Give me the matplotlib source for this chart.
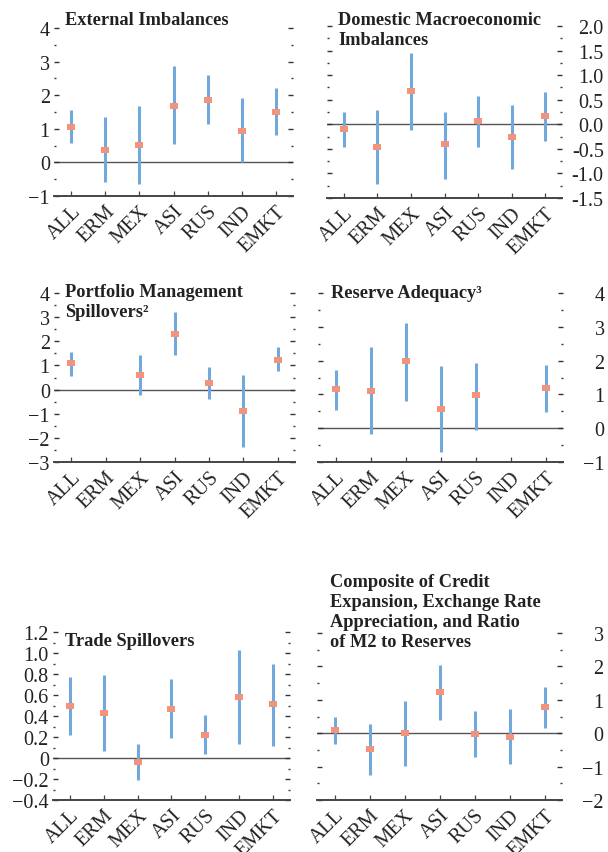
import numpy as np
import matplotlib.pyplot as plt
from matplotlib.ticker import MultipleLocator

plt.rcParams['font.family'] = ['Liberation Serif', 'DejaVu Serif']

countries = ['ALL', 'ERM', 'MEX', 'ASI', 'RUS', 'IND', 'EMKT']
nan = np.nan

# point estimates and band ends
ext_mid = [1.06, 0.38, 0.52, 1.68, 1.87, 0.93, 1.51]
ext_hi = [1.56, 1.34, 1.68, 2.86, 2.59, 1.93, 2.22]
ext_lo = [0.57, -0.57, -0.64, 0.55, 1.14, 0.0, 0.81]

dom_mid = [-0.10, -0.46, 0.68, -0.41, 0.07, -0.26, 0.17]
dom_hi = [0.24, 0.30, 1.46, 0.25, 0.57, 0.39, 0.65]
dom_lo = [-0.46, -1.22, -0.12, -1.11, -0.46, -0.92, -0.34]

port_mid = [1.08, nan, 0.61, 2.31, 0.28, -0.89, 1.24]
port_hi = [1.55, nan, 1.45, 3.21, 0.95, 0.61, 1.76]
port_lo = [0.58, nan, -0.21, 1.44, -0.39, -2.39, 0.75]

res_mid = [1.15, 1.11, 1.98, 0.57, 0.97, nan, 1.19]
res_hi = [1.73, 2.40, 3.12, 1.84, 1.94, nan, 1.88]
res_lo = [0.55, -0.18, 0.79, -0.71, -0.06, nan, 0.47]

trade_mid = [0.50, 0.43, -0.04, 0.47, 0.22, 0.58, 0.51]
trade_hi = [0.77, 0.79, 0.13, 0.75, 0.41, 1.03, 0.90]
trade_lo = [0.22, 0.07, -0.21, 0.19, 0.04, 0.13, 0.11]

comp_mid = [0.10, -0.46, 0.02, 1.22, -0.03, -0.12, 0.78]
comp_hi = [0.49, 0.28, 0.96, 2.05, 0.67, 0.71, 1.39]
comp_lo = [-0.32, -1.24, -0.99, 0.39, -0.72, -0.91, 0.17]

W, H = 608, 853
fig = plt.figure(figsize=(W / 100, H / 100), dpi=100)

BLUE = '#72a9dd'
SALMON = '#f4937b'
rect = [(-1, -0.75), (1, -0.75), (1, 0.75), (-1, 0.75), (-1, -0.75)]


def panel(left, right, top, bottom, mid, lo, hi, ylim, major, minor, side,
          title, tx, tbase, ticks_fmt=None):
    ax = fig.add_axes([left / W, 1 - bottom / H, (right - left) / W, (bottom - top) / H])
    x = np.arange(len(countries))
    mid, lo, hi = np.array(mid), np.array(lo), np.array(hi)
    ok = ~np.isnan(mid)
    ax.vlines(x[ok], lo[ok], hi[ok], color=BLUE, lw=2.2, zorder=2)
    ax.plot(x[ok], mid[ok], linestyle='none', marker=rect, markersize=6.3,
            color=SALMON, markeredgewidth=0, zorder=3)
    ax.axhline(0, color='#555555', lw=1.0, zorder=1)
    ax.set_xlim(-0.5, 6.5)
    ax.set_ylim(*ylim)
    ax.yaxis.set_major_locator(MultipleLocator(major))
    ax.yaxis.set_minor_locator(MultipleLocator(minor))
    if ticks_fmt:
        ax.yaxis.set_major_formatter(ticks_fmt)
    for s in ['top', 'left', 'right']:
        ax.spines[s].set_visible(False)
    ax.spines['bottom'].set_color('#444444')
    ax.spines['bottom'].set_linewidth(1.4)
    ax.set_xticks(x)
    ax.set_xticklabels(countries, rotation=45, ha='right', va='top',
                       rotation_mode='anchor', fontsize=14.5, color='#222222')
    ax.tick_params(axis='x', direction='in', length=3.5, width=0.9, color='#444444', pad=4)
    ax.tick_params(axis='y', which='both', left=True, right=True, direction='in',
                   labelleft=(side == 'left'), labelright=(side == 'right'),
                   labelsize=14.5, labelcolor='#222222', color='#333333')
    ax.tick_params(axis='y', which='major', length=3.3, width=1.0)
    ax.tick_params(axis='y', which='minor', length=1.4, width=1.0)
    if side == 'right':
        ax.tick_params(axis='y', which='major', pad=30)
        for lab in ax.get_yticklabels():
            lab.set_horizontalalignment('right')
    else:
        ax.tick_params(axis='y', which='major', pad=3)
    ax.patch.set_visible(False)
    for i, line in enumerate(title):
        fig.text(tx / W, 1 - (tbase + 20 * i) / H, line, fontsize=13.2,
                 fontweight='bold', color='#222222', va='baseline', ha='left')
    return ax


panel(54, 293, 29, 197, ext_mid, ext_lo, ext_hi, (-1, 4), 1, 0.5, 'left',
      ['External Imbalances'], 65, 25)
panel(327, 562, 27, 199, dom_mid, dom_lo, dom_hi, (-1.5, 2.0), 0.5, 0.25, 'right',
      ['Domestic Macroeconomic', 'Imbalances'], 338, 25,
      plt.FormatStrFormatter('%.1f'))
panel(54, 295, 294, 463, port_mid, port_lo, port_hi, (-3, 4), 1, 0.5, 'left',
      ['Portfolio Management', 'Spillovers\u00b2'], 65, 297)
panel(318, 563, 294, 463, res_mid, res_lo, res_hi, (-1, 4), 1, 0.5, 'right',
      ['Reserve Adequacy\u00b3'], 331, 298)
panel(53, 290, 633, 801, trade_mid, trade_lo, trade_hi, (-0.4, 1.2), 0.2, 0.1, 'left',
      ['Trade Spillovers'], 65, 646,
      plt.FuncFormatter(lambda v, p: '0' if abs(v) < 1e-9 else ('%.1f' % v).replace('-', '\u2212')))
panel(317, 562, 634, 801, comp_mid, comp_lo, comp_hi, (-2, 3), 1, 0.5, 'right',
      ['Composite of Credit', 'Expansion, Exchange Rate',
       'Appreciation, and Ratio', 'of M2 to Reserves'], 330, 587)

fig.savefig('out.png', dpi=100, facecolor='white')
